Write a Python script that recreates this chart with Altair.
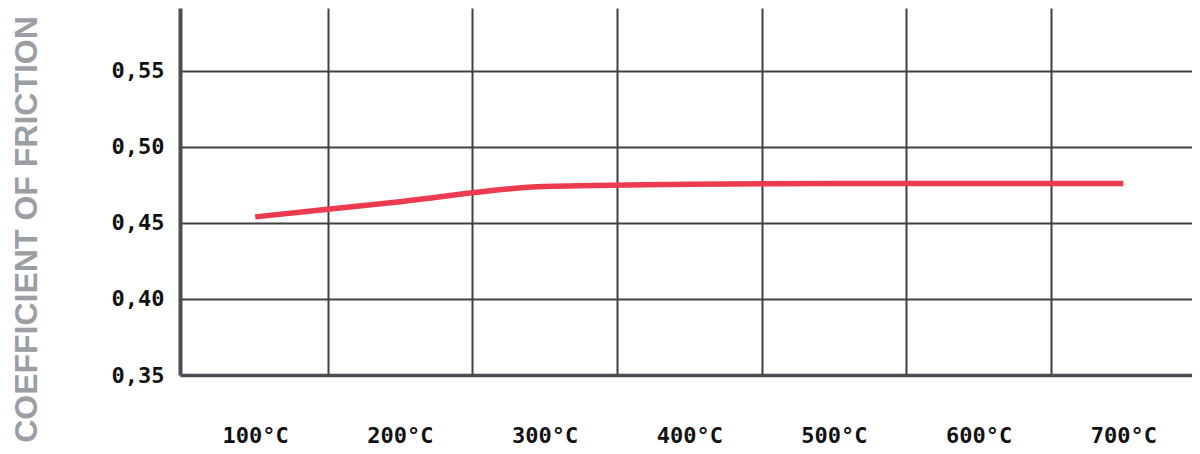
import altair as alt
import pandas as pd

temps = [100, 200, 300, 400, 500, 600, 700]
cof = [0.454, 0.464, 0.474, 0.4755, 0.476, 0.476, 0.476]
x_ticks = [100, 150, 200, 250, 300, 350, 400, 450, 500, 550, 600, 650, 700]
y_ticks = [0.35, 0.40, 0.45, 0.50, 0.55]

df = pd.DataFrame({"temp": temps, "cof": cof})

chart = alt.Chart(df).mark_line(
    color="#ec3a4e", strokeWidth=5.5, interpolate="monotone", strokeCap="butt"
).encode(
    x=alt.X(
        "temp:Q",
        scale=alt.Scale(domain=[48, 747.5], nice=False, zero=False),
        axis=alt.Axis(
            values=x_ticks,
            labelExpr="datum.value % 100 == 0 ? datum.value + '°C' : ''",
            title=None,
            ticks=False,
            tickSize=0,
            labelPadding=60,
            labelBaseline="middle",
            labelFont="DejaVu Sans Mono",
            labelFontSize=22,
            labelFontWeight="bold",
            labelColor="#111111",
            grid=True,
            gridColor="#3d4045",
            gridWidth=2,
            gridOpacity={"condition": {"test": "datum.value % 100 != 0", "value": 1}, "value": 0},
            domainColor="#4a4d52",
            domainWidth=3.5,
            labelFlush=False,
        ),
    ),
    y=alt.Y(
        "cof:Q",
        scale=alt.Scale(domain=[0.35, 0.5914], nice=False, zero=False),
        axis=alt.Axis(
            values=y_ticks,
            labelExpr="replace(format(datum.value, '.2f'), '.', ',')",
            title="COEFFICIENT OF FRICTION",
            titleFont="Liberation Sans",
            titleFontSize=32,
            titleFontWeight="bold",
            titleColor="#9b9ea3",
            titleAngle=270,
            titleAlign="center",
            titleBaseline="middle",
            titleX=-154,
            titleY=221,
            ticks=False,
            tickSize=0,
            labelPadding=16,
            labelFont="DejaVu Sans Mono",
            labelFontSize=22,
            labelFontWeight="bold",
            labelColor="#111111",
            grid=True,
            gridColor="#3d4045",
            gridWidth=2,
            domainColor="#4a4d52",
            domainWidth=4,
            labelFlush=False,
        ),
    ),
).properties(
    width=1012,
    height=367,
    autosize=alt.AutoSizeParams(type="none"),
    padding={"left": 172, "top": 0, "right": 0, "bottom": 71},
).configure_view(stroke=None)

chart.save("out.html", embed_options={"renderer": "svg", "actions": False})
